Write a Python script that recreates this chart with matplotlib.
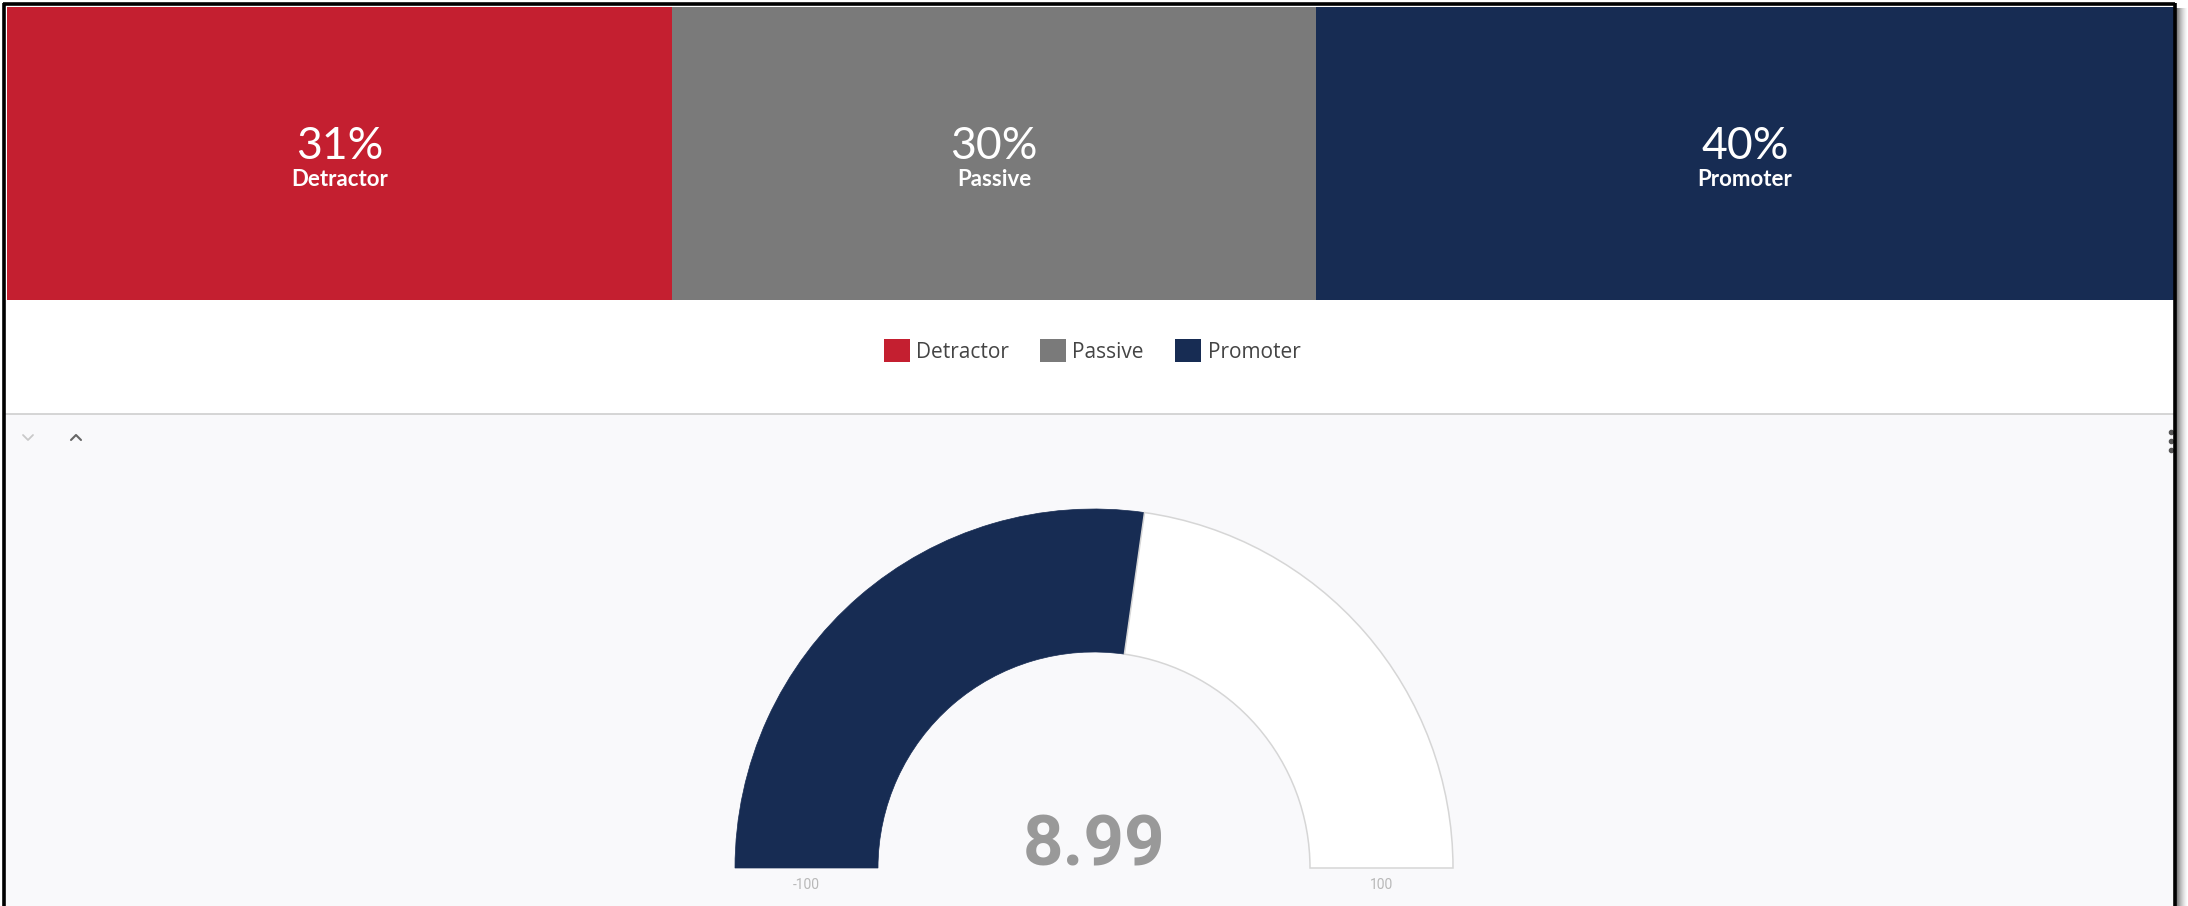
import numpy as np
import matplotlib
matplotlib.use('Agg')
import matplotlib.pyplot as plt

# NPS breakdown
categories = ['Detractor', 'Passive', 'Promoter']
shares = [31, 30, 40]
nps_score = 8.99
gauge_min, gauge_max = -100, 100

colors = {
    'Detractor': '#c41f30',
    'Passive': '#7a7a7a',
    'Promoter': '#172c53',
}
panel_bg = '#f9f9fb'

W, H = 2188, 906
fig = plt.figure(figsize=(W / 100, H / 100), dpi=100, facecolor='white')


def fig_box(x0, y0, x1, y1):
    # pixel box (top-left origin) -> figure fraction rect
    return [x0 / W, 1 - y1 / H, (x1 - x0) / W, (y1 - y0) / H]


# Background: lower panel fill and separator
bg = fig.add_axes([0, 0, 1, 1], zorder=0)
bg.set_xlim(0, W)
bg.set_ylim(H, 0)
bg.axis('off')
bg.add_patch(plt.Rectangle((4, 414), 2170, H - 414, facecolor=panel_bg, edgecolor='none'))
bg.plot([4, 2174], [413.5, 413.5], color='#d2d2d2', lw=1.3)

# chevrons (collapse / expand)
bg.plot([23, 28, 33], [435, 440, 435], color='#c9c9c9', lw=1.3, solid_capstyle='round')
bg.plot([71, 76, 81], [440, 435, 440], color='#666666', lw=1.5, solid_capstyle='round')
# kebab menu
bg.scatter([2171, 2171, 2171], [432, 441, 450], s=9, color='#555555', zorder=2)

# Stacked 100% bar
ax = fig.add_axes(fig_box(7, 7, 2174, 300), zorder=1)
left = 0
bars = []
for cat, val in zip(categories, shares):
    b = ax.barh(0, val, left=left, height=1, color=colors[cat], label=cat, edgecolor='none')
    bars.append(b)
    mid = left + val / 2
    ax.annotate(f'{val}%', (mid, 0), xytext=(0, -4), textcoords='offset points',
                ha='center', va='baseline', color='white', fontsize=32, family='Lato')
    ax.annotate(cat, (mid, 0), xytext=(0, -23.5), textcoords='offset points',
                ha='center', va='baseline', color='white', fontsize=16,
                family='Lato', weight='bold')
    left += val
ax.set_xlim(0, sum(shares))
ax.set_ylim(-0.5, 0.5)
ax.axis('off')

fig.legend(handles=bars, labels=categories, loc='center',
           bbox_to_anchor=(1092 / W, 1 - 351 / H), ncol=3, frameon=False,
           prop={'family': 'Open Sans', 'size': 15},
           handlelength=1.25, handleheight=1.25, handletextpad=0.3,
           columnspacing=1.5, labelcolor='#444444')

# Half-donut gauge
R_px, r_px = 359, 216
cx, cy = 1094, 868
gx = fig.add_axes(fig_box(cx - R_px, cy - R_px, cx + R_px, cy), zorder=1)
gx.set_facecolor('none')
span = gauge_max - gauge_min
wedges, _ = gx.pie([nps_score - gauge_min, gauge_max - nps_score, span],
                   startangle=180, counterclock=False, radius=1,
                   wedgeprops=dict(width=(R_px - r_px) / R_px))
wedges[0].set(facecolor=colors['Promoter'], edgecolor=colors['Promoter'], lw=0.5)
wedges[1].set(facecolor='white', edgecolor='#d6d6d6', lw=1.1)
wedges[2].set_visible(False)
for w in wedges:
    w.set_clip_on(False)
gx.set_xlim(-1, 1)
gx.set_ylim(0, 1)
gx.set_aspect('equal')
gx.axis('off')

band_mid = (1 + r_px / R_px) / 2
gx.text(-band_mid, -17 / R_px, f'{gauge_min}', ha='center', va='center',
        fontsize=10, color='#b8b8b8', family='Roboto')
gx.text(band_mid, -17 / R_px, f'{gauge_max}', ha='center', va='center',
        fontsize=10, color='#b8b8b8', family='Roboto')
gx.text(0, 3 / R_px, f'{nps_score:.2f}', ha='center', va='baseline',
        fontsize=51, color='#999999', family='Roboto', weight='bold')

# Frame with drop shadow on the right
fr = fig.add_axes([0, 0, 1, 1], zorder=5)
fr.set_facecolor('none')
fr.set_xlim(0, W)
fr.set_ylim(H, 0)
fr.axis('off')
grad = np.linspace(0, 1, 12)[None, :]
fr.imshow(grad, cmap='Greys_r', vmin=-0.6, vmax=1.0, extent=(2176, 2188, H, 8),
          aspect='auto', zorder=1)
fr.add_patch(plt.Rectangle((2176, 0), 12, 8, facecolor='white', edgecolor='none', zorder=1))
fr.plot([4, 4], [3, H], color='black', lw=2.6, solid_capstyle='butt', zorder=2)
fr.plot([3, 2175], [4, 4], color='black', lw=2.6, solid_capstyle='butt', zorder=2)
fr.plot([2174.5, 2174.5], [3, H], color='black', lw=2.6, solid_capstyle='butt', zorder=2)
fr.set_xlim(0, W)
fr.set_ylim(H, 0)

fig.savefig('out.png', dpi=100, facecolor='white')
